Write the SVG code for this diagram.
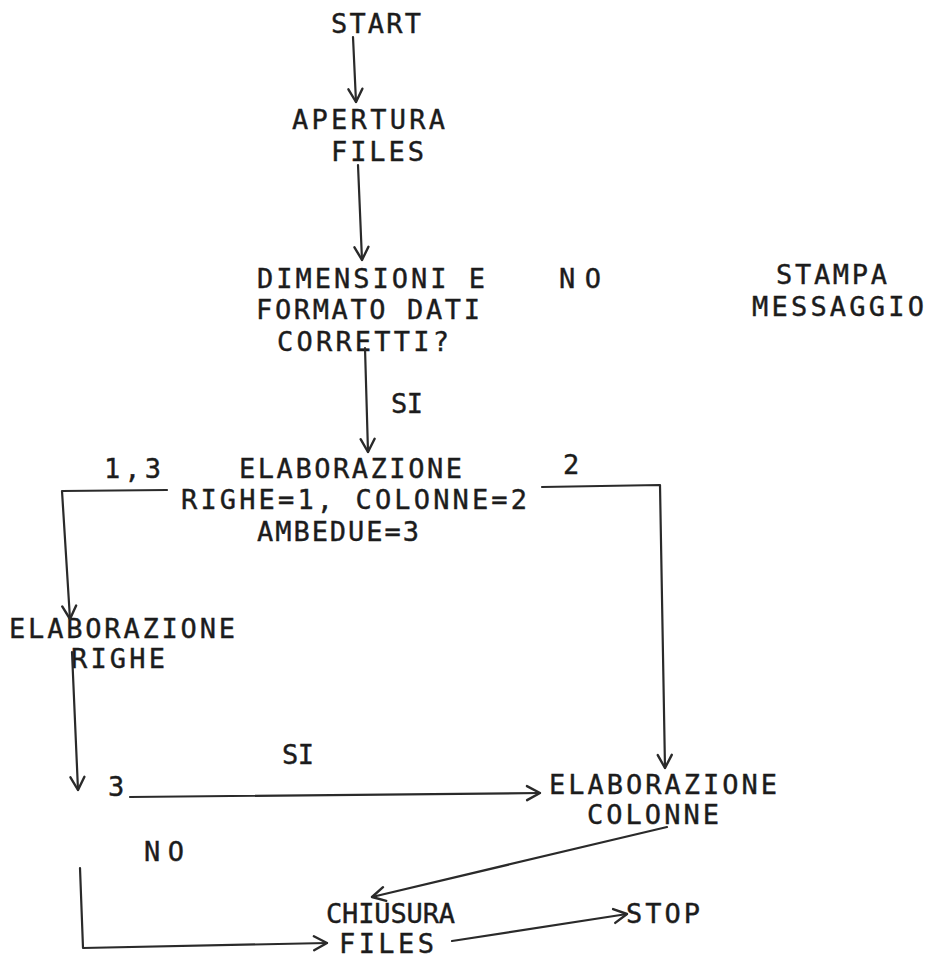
<svg xmlns="http://www.w3.org/2000/svg" width="929" height="959" viewBox="0 0 929 959">
<style>
text{font-family:"DejaVu Sans Mono","Liberation Mono",monospace;font-size:27px;fill:#1c1c1c;stroke:#1c1c1c;stroke-width:0.4}
.c{fill:none;stroke:#2a2a2a;stroke-width:2.2;stroke-linecap:round;stroke-linejoin:round}
</style>
<defs>
<marker id="a" viewBox="-16 -9 18 18" markerWidth="18" markerHeight="18" refX="0" refY="0" orient="auto" markerUnits="userSpaceOnUse">
<path d="M-13,-7 L0,0 L-13,7" fill="none" stroke="#2a2a2a" stroke-width="2.4" stroke-linecap="round" stroke-linejoin="round"/>
</marker>
</defs>
<rect width="929" height="959" fill="#fff"/>
<g id="start"><text x="331" y="33" textLength="90" lengthAdjust="spacing">START</text></g>
<g id="apertura"><text x="292" y="129" textLength="153" lengthAdjust="spacing">APERTURA</text><text x="331" y="161" textLength="93" lengthAdjust="spacing">FILES</text></g>
<g id="dimensioni"><text x="257" y="288" textLength="228" lengthAdjust="spacing">DIMENSIONI E</text><text x="256" y="319" textLength="224" lengthAdjust="spacing">FORMATO DATI</text><text x="277" y="351" textLength="172" lengthAdjust="spacing">CORRETTI?</text></g>
<g id="stampa"><text x="776" y="284" textLength="111" lengthAdjust="spacing">STAMPA</text><text x="752" y="316" textLength="172" lengthAdjust="spacing">MESSAGGIO</text></g>
<g id="elaborazione"><text x="239" y="478" textLength="223" lengthAdjust="spacing">ELABORAZIONE</text><text x="181" y="509" textLength="346" lengthAdjust="spacing">RIGHE=1, COLONNE=2</text><text x="257" y="541" textLength="162" lengthAdjust="spacing">AMBEDUE=3</text></g>
<g id="elab-righe"><text x="9" y="638" textLength="226" lengthAdjust="spacing">ELABORAZIONE</text><text x="71" y="668" textLength="94" lengthAdjust="spacing">RIGHE</text></g>
<g id="test3"><text x="108" y="796">3</text></g>
<g id="elab-colonne"><text x="549" y="794" textLength="228" lengthAdjust="spacing">ELABORAZIONE</text><text x="587" y="824" textLength="132" lengthAdjust="spacing">COLONNE</text></g>
<g id="chiusura"><text x="326" y="923" textLength="129" lengthAdjust="spacing">CHIUSURA</text><text x="339" y="953" textLength="95" lengthAdjust="spacing">FILES</text></g>
<g id="stop"><text x="626" y="923" textLength="74" lengthAdjust="spacing">STOP</text></g>
<g id="labels">
<text x="559" y="288" textLength="42" lengthAdjust="spacing">NO</text>
<text x="391" y="413" textLength="32" lengthAdjust="spacing">SI</text>
<text x="104" y="478" textLength="57" lengthAdjust="spacing">1,3</text>
<text x="563" y="474">2</text>
<text x="282" y="764" textLength="32" lengthAdjust="spacing">SI</text>
<text x="144" y="861" textLength="40" lengthAdjust="spacing">NO</text>
</g>
<g id="connectors">
<path class="c" d="M353,37 L356,102" marker-end="url(#a)"/>
<path class="c" d="M358,165 L362,260" marker-end="url(#a)"/>
<path class="c" d="M365,348 L368,452" marker-end="url(#a)"/>
<path class="c" d="M167,490 L62,491 L70,619" marker-end="url(#a)"/>
<path class="c" d="M542,487 L660,485 L665,768" marker-end="url(#a)"/>
<path class="c" d="M72,652 L78,790" marker-end="url(#a)"/>
<path class="c" d="M130,797 L540,793" marker-end="url(#a)"/>
<path class="c" d="M667,827 L372,897" marker-end="url(#a)"/>
<path class="c" d="M80,868 L83,948 L327,943" marker-end="url(#a)"/>
<path class="c" d="M452,941 L627,914" marker-end="url(#a)"/>
</g>
</svg>
